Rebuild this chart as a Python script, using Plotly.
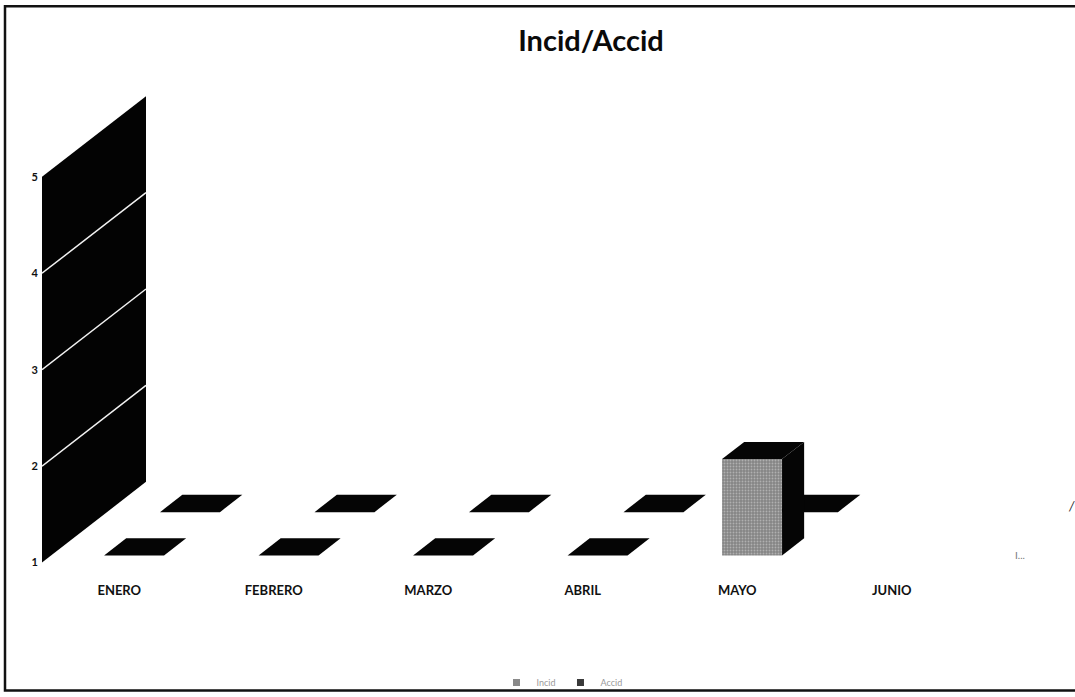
import plotly.graph_objects as go

# ---- data -------------------------------------------------------------
categories = ["ENERO", "FEBRERO", "MARZO", "ABRIL", "MAYO", "JUNIO"]
incid = [1, 1, 1, 1, 2, None]      # front row
accid = [1, 1, 1, 1, 1, None]      # back row
y_ticks = [1, 2, 3, 4, 5]
series_names = ["Incid", "Accid"]

# ---- oblique 3D projection helpers -----------------------------------
W, H = 1075, 697
PLOT_L, PLOT_T, PLOT_B = 42, 60, 580      # plot-area edges in pixels
PX_PER_CAT = 154.5                         # pixels per category slot
PX_PER_VAL = 96.8                          # pixels per value unit
VAL1_PX = 564.5                            # pixel row of value 1
DX = 104 / PX_PER_CAT                      # full depth, horizontal (x units)
DY = 81 / PX_PER_VAL                       # full depth, vertical (value units)
BASE, WALL_TOP = 1, 5

BAR_LEFT, BAR_RIGHT = 0.343, 0.731         # bar extent inside its slot
ROWS = {"front": (0.0875, 0.30), "back": (0.625, 0.84)}


def proj(x, v, d):
    return x + d * DX, v + d * DY


def poly(pts, color, pattern=None):
    xs, ys = zip(*[proj(*p) for p in pts])
    kw = dict(x=list(xs) + [xs[0]], y=list(ys) + [ys[0]], mode="lines",
              fill="toself", fillcolor=color, line=dict(width=0, color=color),
              hoverinfo="skip", showlegend=False)
    if pattern:
        kw["fillpattern"] = pattern
    return go.Scatter(**kw)


def bar_faces(i, value, row, front_color, pattern=None):
    if value is None:
        return []
    x0, x1 = i + BAR_LEFT, i + BAR_RIGHT
    d0, d1 = ROWS[row]
    v = max(value, BASE)
    faces = []
    if v > BASE:
        faces.append(poly([(x0, BASE, d0), (x1, BASE, d0), (x1, v, d0), (x0, v, d0)],
                          front_color, pattern))
        faces.append(poly([(x1, BASE, d0), (x1, BASE, d1), (x1, v, d1), (x1, v, d0)],
                          "#050505"))
    faces.append(poly([(x0, v, d0), (x1, v, d0), (x1, v, d1), (x0, v, d1)], "#050505"))
    return faces


fig = go.Figure()

# side wall with gridlines
fig.add_trace(poly([(0, BASE, 0), (0, WALL_TOP, 0), (0, WALL_TOP, 1), (0, BASE, 1)], "#030303"))
for t in y_ticks[1:-1]:
    (gx0, gy0), (gx1, gy1) = proj(0, t, 0), proj(0, t, 1)
    fig.add_trace(go.Scatter(x=[gx0, gx1], y=[gy0, gy1], mode="lines",
                             line=dict(color="#f2f2f2", width=1.5),
                             hoverinfo="skip", showlegend=False))

# back row first, then front row
for i, v in enumerate(accid):
    for f in bar_faces(i, v, "back", "#1a1a1a"):
        fig.add_trace(f)
grain = dict(shape=".", bgcolor="#858585", fgcolor="#dcdcdc", size=3, solidity=0.3)
for i, v in enumerate(incid):
    for f in bar_faces(i, v, "front", "#858585", grain):
        fig.add_trace(f)

# legend entries
for name, col in zip(series_names, ["#8a8a8a", "#3a3a3a"]):
    fig.add_trace(go.Scatter(x=[None], y=[None], mode="markers", name=name,
                             marker=dict(symbol="square", size=7, color=col)))

plot_h = PLOT_B - PLOT_T
y_lo = BASE + (VAL1_PX - PLOT_B) / PX_PER_VAL
y_hi = BASE + (VAL1_PX - PLOT_T) / PX_PER_VAL
x_hi = (W - PLOT_L) / PX_PER_CAT


def px_to_paper_x(px):
    return (px - PLOT_L) / (W - PLOT_L)


def px_to_paper_y(py):
    return (PLOT_B - py) / plot_h


fig.update_layout(
    width=W, height=H,
    margin=dict(l=PLOT_L, r=0, t=PLOT_T, b=H - PLOT_B),
    paper_bgcolor="white", plot_bgcolor="white",
    font=dict(family="Lato, Open Sans, sans-serif", color="#111"),
    title=dict(text="Incid/Accid", x=px_to_paper_x(591), xref="paper",
               xanchor="center", y=1 - 41 / H, yanchor="middle",
               font=dict(size=29, weight="bold", color="#0a0a0a")),
    xaxis=dict(range=[0, x_hi], tickvals=[i + 0.5 for i in range(len(categories))],
               ticktext=categories, showgrid=False, zeroline=False, showline=False,
               ticks="", ticklabelstandoff=3,
               tickfont=dict(size=13, weight="bold", color="#111"),
               fixedrange=True),
    yaxis=dict(range=[y_lo, y_hi], tickvals=y_ticks, showgrid=False,
               zeroline=False, showline=False, ticks="", ticklabelstandoff=3,
               tickfont=dict(size=11, weight="bold", color="#111"), fixedrange=True),
    legend=dict(orientation="h", x=px_to_paper_x(562), xanchor="center",
                y=px_to_paper_y(685), yanchor="middle",
                font=dict(size=9, color="#9a9a9a"), itemwidth=30,
                bgcolor="rgba(0,0,0,0)"),
    shapes=[dict(type="rect", xref="paper", yref="paper",
                 x0=px_to_paper_x(5), x1=px_to_paper_x(1085),
                 y0=px_to_paper_y(693), y1=px_to_paper_y(6),
                 line=dict(color="#111", width=2.5), layer="below")],
    annotations=[
        dict(x=(1020 - PLOT_L) / PX_PER_CAT, y=BASE + (VAL1_PX - 557) / PX_PER_VAL,
             text="I...", showarrow=False, font=dict(size=10, color="#777")),
        dict(x=(1071 - PLOT_L) / PX_PER_CAT, y=BASE + (VAL1_PX - 508) / PX_PER_VAL,
             text="<i>/</i>", showarrow=False, font=dict(size=13, color="#222")),
    ],
)

fig.write_html("out.html")
